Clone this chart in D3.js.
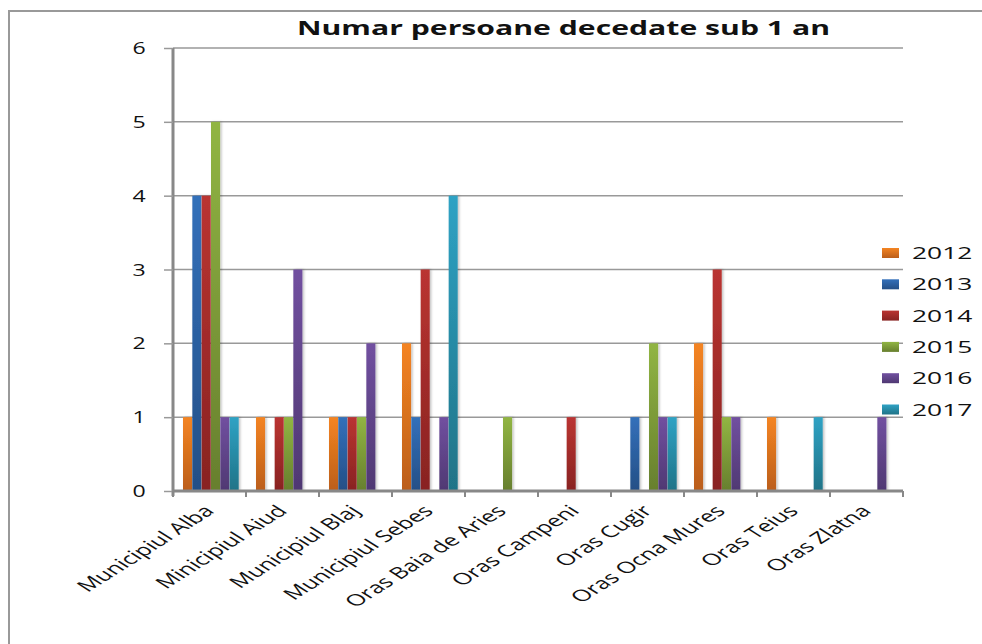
<!DOCTYPE html>
<html><head><meta charset="utf-8">
<script src="https://cdn.jsdelivr.net/npm/d3@7"></script>
<style>html,body{margin:0;padding:0;background:#fff;}svg{display:block;}</style>
</head><body>
<svg id="chart" width="982" height="644"></svg>
<script>
const categories = ["Municipiul Alba","Minicipiul Aiud","Municipiul Blaj","Municipiul Sebes","Oras Baia de Aries","Oras Campeni","Oras Cugir","Oras Ocna Mures","Oras Teius","Oras Zlatna"];
const seriesNames = ["2012","2013","2014","2015","2016","2017"];
const v2012 = [1,1,1,2,0,0,0,2,1,0];
const v2013 = [4,0,1,1,0,0,1,0,0,0];
const v2014 = [4,1,1,3,0,1,0,3,0,0];
const v2015 = [5,1,1,0,1,0,2,1,0,0];
const v2016 = [1,3,2,1,0,0,1,1,0,1];
const v2017 = [1,0,0,4,0,0,1,0,1,0];
const yTicks = [0,1,2,3,4,5,6];
const title = "Numar persoane decedate sub 1 an";

const seriesValues = [v2012,v2013,v2014,v2015,v2016,v2017];
const colorsTop = ["#F48422","#3370BA","#BA3431","#91B543","#7150A0","#2FA2C4"];
const colorsBot = ["#BB5E1A","#244F86","#882322","#677F2E","#4F3872","#1F7387"];

const svg = d3.select("#chart");
const defs = svg.append("defs");
seriesNames.forEach((s,i)=>{
  const g = defs.append("linearGradient").attr("id","grad"+i).attr("x1",0).attr("y1",0).attr("x2",0).attr("y2",1);
  g.append("stop").attr("offset","0%").attr("stop-color",colorsTop[i]);
  g.append("stop").attr("offset","100%").attr("stop-color",colorsBot[i]);
});
const f = defs.append("filter").attr("id","shadow").attr("x","-50%").attr("y","-10%").attr("width","200%").attr("height","120%");
f.append("feDropShadow").attr("dx",1.5).attr("dy",0).attr("stdDeviation",1.2).attr("flood-color","#000").attr("flood-opacity",0.25);

// outer border
svg.append("rect").attr("x",9).attr("y",11).attr("width",1000).attr("height",700)
  .attr("fill","none").attr("stroke","#999").attr("stroke-width",2);

const pLeft=173,pRight=903,pTop=48,pBottom=491;
const x0 = d3.scaleBand().domain(categories).range([pLeft,pRight]);
const x1 = d3.scaleBand().domain(seriesNames).range([10,66]);
const y = d3.scaleLinear().domain([0,6]).range([pBottom,pTop]);

// gridlines
svg.append("g").selectAll("line").data(yTicks.filter(d=>d>0)).join("line")
  .attr("x1",pLeft).attr("x2",pRight).attr("y1",d=>y(d)).attr("y2",d=>y(d))
  .attr("stroke","#999").attr("stroke-width",1.5);

// y axis
const yAxis = svg.append("g").attr("transform",`translate(${pLeft},0)`)
  .call(d3.axisLeft(y).tickValues(yTicks).tickSize(9).tickFormat(""));
yAxis.select(".domain").attr("stroke","#888").attr("stroke-width",3).attr("d",`M0,${pTop}V${pBottom+5}`);
yAxis.selectAll(".tick line").attr("stroke","#999").attr("stroke-width",1.5);

svg.append("g").selectAll("text").data(yTicks).join("text")
  .attr("transform",d=>`translate(139,${y(d)+6}) scale(1.4,1)`)
  .attr("text-anchor","middle").attr("font-family","Open Sans").attr("font-size",16.5).attr("fill","#111")
  .text(d=>d);

// bars
const bars = svg.append("g").attr("filter","url(#shadow)");
categories.forEach((c,ci)=>{
  seriesNames.forEach((s,si)=>{
    const v = seriesValues[si][ci];
    if(v<=0) return;
    bars.append("rect")
      .attr("x",x0(c)+x1(s)).attr("width",x1.bandwidth()-0.3)
      .attr("y",y(v)).attr("height",y(0)-y(v))
      .attr("fill",`url(#grad${si})`);
  });
});

// x axis
const xAxis = svg.append("g").attr("transform",`translate(0,${pBottom})`);
xAxis.append("line").attr("x1",pLeft).attr("x2",pRight).attr("stroke","#888").attr("stroke-width",3);
const bounds = categories.map(c=>x0(c)).concat([pRight]);
xAxis.selectAll("line.tk").data(bounds).join("line").attr("class","tk")
  .attr("x1",d=>d).attr("x2",d=>d).attr("y1",0).attr("y2",6).attr("stroke","#888").attr("stroke-width",2);

// x labels
svg.append("g").selectAll("text").data(categories).join("text")
  .attr("transform",d=>`translate(${x0(d)+x0.bandwidth()/2+6},${pBottom+21}) scale(1.58,1) rotate(-45)`)
  .attr("text-anchor","end").attr("font-family","Open Sans").attr("font-size",16).attr("fill","#111")
  .text(d=>d);

// title
svg.append("text").attr("x",297).attr("y",35).attr("textLength",533).attr("lengthAdjust","spacingAndGlyphs")
  .attr("font-family","Open Sans").attr("font-weight","bold").attr("font-size",19).attr("fill","#111")
  .text(title);

// legend
const lg = svg.append("g");
seriesNames.forEach((s,i)=>{
  const cy = 253 + i*31.3;
  lg.append("rect").attr("x",882).attr("y",cy-5).attr("width",17).attr("height",10).attr("fill",`url(#grad${i})`);
  lg.append("text").attr("transform",`translate(912,${cy+6}) scale(1.6,1)`)
    .attr("font-family","Open Sans").attr("font-size",16.5).attr("fill","#111").text(s);
});
</script>
</body></html>
